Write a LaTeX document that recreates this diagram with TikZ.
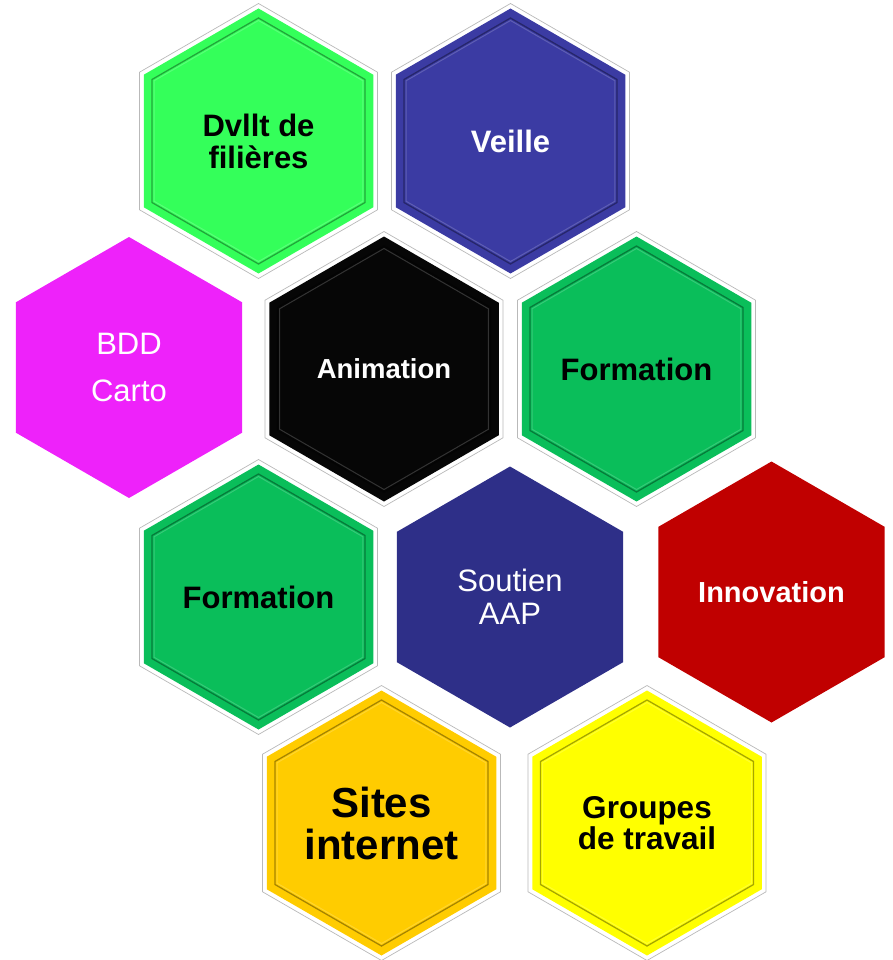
\documentclass[tikz,border=0pt]{standalone}
\usepackage{fontspec}
\setmainfont{Liberation Sans}
\usetikzlibrary{shapes.geometric}

\definecolor{dvlltgreen}{RGB}{52,255,90}
\definecolor{veilleblue}{RGB}{59,59,163}
\definecolor{animblack}{RGB}{6,6,6}
\definecolor{formgreen}{RGB}{10,190,90}
\definecolor{bddpink}{RGB}{238,34,250}
\definecolor{soutienblue}{RGB}{46,47,136}
\definecolor{innovred}{RGB}{192,0,0}
\definecolor{sitesorange}{RGB}{255,204,0}
\definecolor{groupyellow}{RGB}{255,255,0}

\tikzset{
  hexa/.style={regular polygon, regular polygon sides=6, shape border rotate=30,
    inner sep=0pt, align=center},
  hexframe/.style={hexa, minimum size=275pt, fill=white, draw=gray!55, line width=0.7pt},
  hexfill/.style={hexa, minimum size=265pt, fill=#1, path picture={
      \draw[black, opacity=.35, line width=1.3pt] (path picture bounding box.center)
        +(30:123) -- +(90:123) -- +(150:123) -- +(210:123) -- +(270:123) -- +(330:123) -- cycle;
      \draw[white, opacity=.18, line width=1pt] (path picture bounding box.center)
        +(30:120.5) -- +(90:120.5) -- +(150:120.5) -- +(210:120.5) -- +(270:120.5) -- +(330:120.5) -- cycle;}},
  hexflat/.style={hexa, minimum size=261pt, fill=#1},
}

\begin{document}
\begin{tikzpicture}[x=1pt,y=-1pt]
\useasboundingbox (0,0) rectangle (893,960);

% top row
\node[hexframe] (fdvllt) at (258.5,141) {};
\node[hexfill=dvlltgreen, font=\bfseries\fontsize{31}{32}\selectfont] (dvllt) at (fdvllt) {Dvllt de\\filières};
\node[hexframe] (fveille) at (510.5,141) {};
\node[hexfill=veilleblue, text=white, font=\bfseries\fontsize{31}{32}\selectfont] (veille) at (fveille) {Veille};

% second row
\node[hexflat=bddpink, text=white, font=\fontsize{31}{47}\selectfont] (bdd) at (129,367.5) {BDD\\Carto};
\node[hexframe] (fanim) at (384,369) {};
\node[hexfill=animblack, text=white, font=\bfseries\fontsize{27.5}{30}\selectfont] (anim) at (fanim) {Animation};
\node[hexframe] (fformr) at (636.5,369) {};
\node[hexfill=formgreen, font=\bfseries\fontsize{31}{32}\selectfont] (formr) at (fformr) {Formation};

% third row
\node[hexframe] (fforml) at (258.5,597) {};
\node[hexfill=formgreen, font=\bfseries\fontsize{31}{32}\selectfont] (forml) at (fforml) {Formation};
\node[hexflat=soutienblue, text=white, font=\fontsize{31}{33}\selectfont] (soutien) at (510,597) {Soutien\\AAP};
\node[hexflat=innovred, text=white, font=\bfseries\fontsize{29}{30}\selectfont] (innov) at (771.5,592) {Innovation};

% bottom row
\node[hexframe] (fsites) at (381.5,823) {};
\node[hexfill=sitesorange, font=\bfseries\fontsize{42}{42}\selectfont] (sites) at (fsites) {Sites\\internet};
\node[hexframe] (fgroupes) at (647,823) {};
\node[hexfill=groupyellow, font=\bfseries\fontsize{31.5}{31}\selectfont] (groupes) at (fgroupes) {Groupes\\de travail};
\end{tikzpicture}
\end{document}
